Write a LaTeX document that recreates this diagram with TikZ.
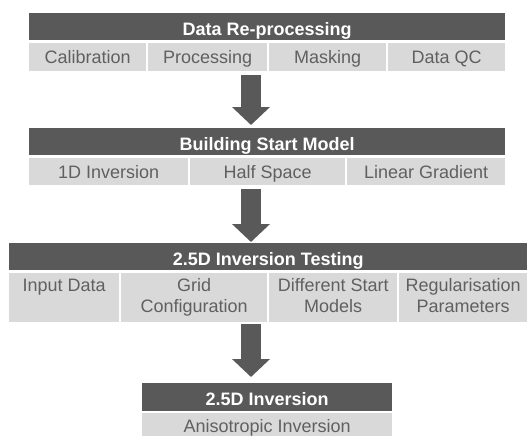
\documentclass[tikz,border=0pt]{standalone}
\usepackage{fontspec}
\setmainfont{Liberation Sans}
\usepackage{xcolor}
\usetikzlibrary{
    arrows.meta,
    calc
}
\definecolor{headgray}{RGB}{89,89,89}
\definecolor{cellgray}{RGB}{217,217,217}
\definecolor{celltext}{RGB}{96,96,96}
\newcommand{\boxfont}{\fontsize{18}{21.5}\selectfont}

\begin{document}
\begin{tikzpicture}[x=1pt, y=-1pt,
    header/.style={fill=headgray, text=white, font=\boxfont\bfseries, anchor=north west, inner sep=0pt, minimum height=27pt, text height=21pt, text depth=3.5pt},
    cell/.style={fill=cellgray, text=celltext, font=\boxfont, anchor=north west, inner sep=0pt, minimum height=28pt, text height=16.5pt, text depth=3.5pt},
    tallcell/.style={fill=cellgray, text=celltext, font=\boxfont, anchor=north west, inner sep=0pt, minimum height=49pt, align=center},
    flow/.style={draw=headgray, line width=20pt, -{Triangle[length=18pt, width=37pt]}}]
                        \useasboundingbox (0, 0) rectangle (527, 436);

                        \node[header, minimum width=476pt] (prep) at (29, 13) {Data Re-processing};
                        \node[cell, minimum width=117pt] (calib) at (29, 43) {Calibration};
                        \node[cell, minimum width=119pt] (proc) at (148, 43) {Processing};
                        \node[cell, minimum width=117pt] (mask) at (269, 43) {Masking};
                        \node[cell, minimum width=117pt] (qc) at (388, 43) {Data QC};

                        \node[header, minimum width=476pt] (start) at (29, 128) {Building Start Model};
                        \node[cell, minimum width=159pt, minimum height=27pt] (inv1d) at (29, 158) {1D Inversion};
                        \node[cell, minimum width=155pt, minimum height=27pt] (half) at (190, 158) {Half Space};
                        \node[cell, minimum width=158pt, minimum height=27pt] (lin) at (347, 158) {Linear Gradient};

                        \node[header, minimum width=518pt] (test) at (9, 243) {2.5D Inversion Testing};
                        \node[tallcell, minimum width=110pt] (input) at (9, 273) {Input Data\strut\\\strut};
                        \node[tallcell, minimum width=146pt] (grid) at (121, 273) {Grid\strut\\Configuration\strut};
                        \node[tallcell, minimum width=128pt] (diff) at (269, 273) {Different Start\strut\\Models\strut};
                        \node[tallcell, minimum width=128pt] (reg) at (399, 273) {Regularisation\strut\\Parameters\strut};

                        \node[header, minimum width=250pt, minimum height=28pt] (inv) at (142, 383) {2.5D Inversion};
                        \node[cell, minimum width=250pt, minimum height=26pt] (aniso) at (142, 413) {Anisotropic Inversion};

                        \coordinate (a1) at (251, 75);
                        \coordinate (b1) at (251, 125);
                        \coordinate (a2) at (251, 189);
                        \coordinate (b2) at (251, 242);
                        \coordinate (a3) at (251, 324);
                        \coordinate (b3) at (251, 377);

                        \draw[flow] (a1) -- (b1);
                        \draw[flow] (a2) -- (b2);
                        \draw[flow] (a3) -- (b3);
                    \end{tikzpicture}
\end{document}
